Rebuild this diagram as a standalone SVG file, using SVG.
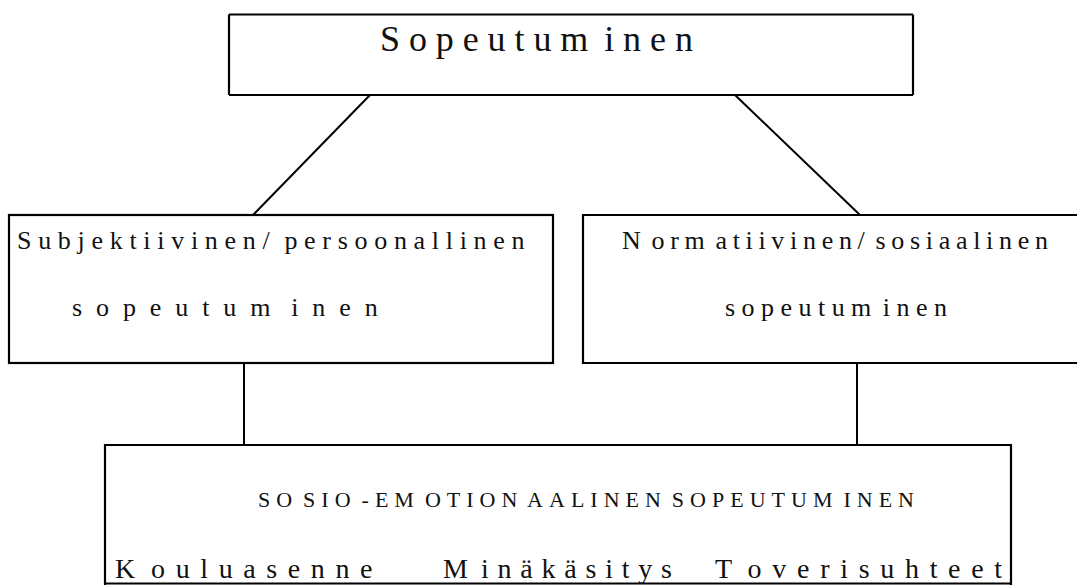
<svg xmlns="http://www.w3.org/2000/svg" width="1077" height="585" viewBox="0 0 1077 585">
<style>
.box{fill:none;stroke:#000;stroke-width:2.2}
.ln{stroke:#000;stroke-width:2;fill:none}
text{font-family:"Liberation Serif","Times New Roman",serif;fill:#111}
</style>
<rect width="1077" height="585" fill="#fff"/>
<g id="connectors">
<line class="ln" x1="370" y1="95" x2="253" y2="215"/>
<line class="ln" x1="735" y1="95" x2="860" y2="215"/>
<line class="ln" x1="244" y1="363" x2="244" y2="445"/>
<line class="ln" x1="857" y1="363" x2="857" y2="445"/>
</g>
<g id="n-top">
<line class="box" x1="229" y1="14.5" x2="913" y2="14.5" stroke-width="3"/>
<line class="box" x1="229" y1="95" x2="913" y2="95" stroke-width="3"/>
<line class="box" x1="229" y1="14.5" x2="229" y2="95"/>
<line class="box" x1="913" y1="14.5" x2="913" y2="95"/>
<text x="380" y="51" font-size="36" style="letter-spacing:8.9px;word-spacing:-10.9px">Sopeutum inen</text>
</g>
<g id="n-subj">
<rect class="box" x="9" y="215" width="544" height="148"/>
<text x="17" y="249" font-size="26" style="letter-spacing:6.7px;word-spacing:-5.2px">Subjektiivinen/ persoonallinen</text>
<text x="72" y="316" font-size="26" style="letter-spacing:13.9px;word-spacing:-13.5px">sopeutum inen</text>
</g>
<g id="n-norm">
<path class="box" d="M1077 215 H583 V363 H1077"/>
<text x="622" y="249" font-size="26" style="letter-spacing:5.69px;word-spacing:-7.2px">N orm atiivinen/ sosiaalinen</text>
<text x="725" y="316" font-size="26" style="letter-spacing:6.46px;word-spacing:-7.96px">sopeutum inen</text>
</g>
<g id="n-sosio">
<path class="box" d="M105 585 V445 H1011 V585"/>
<line class="box" x1="105" y1="583.5" x2="1011" y2="583.5"/>
<text x="258" y="507" font-size="22" style="letter-spacing:6px;word-spacing:-6.5px">SO SIO -EM OTION AALINEN SOPEUTUM INEN</text>
<text x="115" y="578" font-size="28" style="letter-spacing:10.6px;word-spacing:-12.3px">K ouluasenne</text>
<text x="443" y="578" font-size="28" style="letter-spacing:8.77px;word-spacing:-11.4px">M inäkäsitys</text>
<text x="715" y="578" font-size="28" style="letter-spacing:10.7px;word-spacing:-12.4px">T overisuhteet</text>
</g>
</svg>
